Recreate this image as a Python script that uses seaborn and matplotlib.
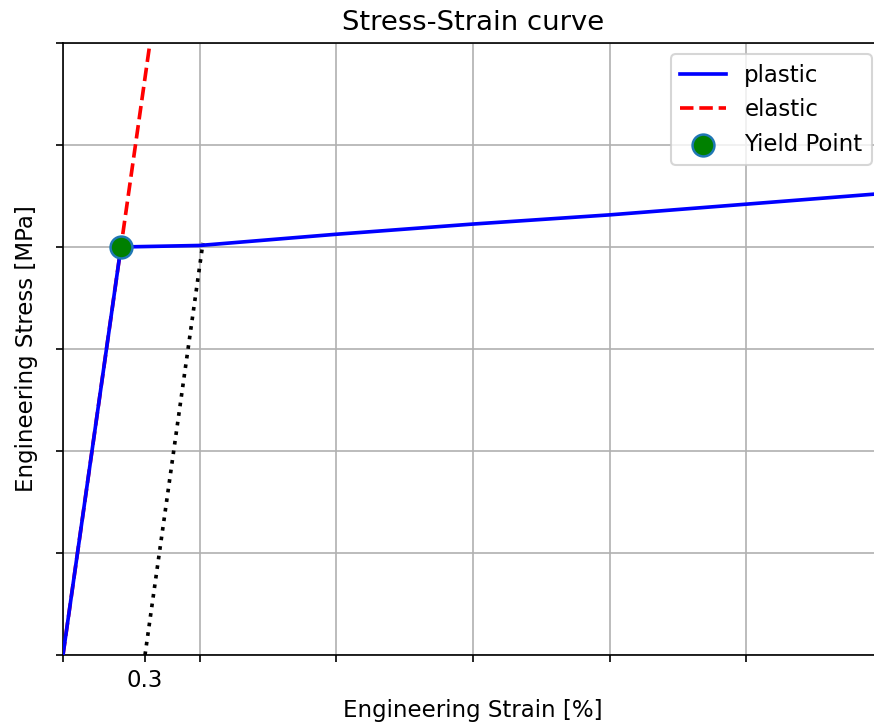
import matplotlib
matplotlib.use("Agg")
import matplotlib.pyplot as plt
import seaborn as sns
import pandas as pd

# Data
plastic_strain = [0.0, 0.212, 0.5, 1.0, 1.5, 2.0, 3.0]
plastic_stress = [0.0, 400.0, 401.5, 412.5, 422.5, 431.5, 452.5]

elastic_strain = [0.0, 0.212, 0.35]
elastic_stress = [0.0, 400.0, 660.0]

offset_strain = [0.3, 0.512]
offset_stress = [0.0, 404.0]

yield_strain = [0.212]
yield_stress = [400.0]

xticks_major = [0, 0.5, 1.0, 1.5, 2.0, 2.5, 3.0]
xtick_minor = [0.3]
xtick_minor_labels = ["0.3"]
yticks = [0, 100, 200, 300, 400, 500, 600]

plt.rcParams['font.family'] = ['DejaVu Sans']
plt.rcParams['font.size'] = 11
fig = plt.figure(figsize=(874 / 150, 723 / 150), dpi=150)
ax = fig.add_axes([63 / 874, 68 / 723, 820 / 874, 612 / 723])

df_pl = pd.DataFrame({"strain": plastic_strain, "stress": plastic_stress})
df_el = pd.DataFrame({"strain": elastic_strain, "stress": elastic_stress})
df_off = pd.DataFrame({"strain": offset_strain, "stress": offset_stress})
df_y = pd.DataFrame({"strain": yield_strain, "stress": yield_stress})

sns.lineplot(data=df_pl, x="strain", y="stress", sort=False, estimator=None,
             color="blue", lw=1.75, label="plastic", ax=ax, zorder=3)
sns.lineplot(data=df_el, x="strain", y="stress", sort=False, estimator=None,
             color="red", lw=1.75, linestyle="--", label="elastic", ax=ax, zorder=2)
sns.lineplot(data=df_off, x="strain", y="stress", sort=False, estimator=None,
             color="black", lw=1.75, linestyle=":", ax=ax, zorder=2, legend=False)
sns.scatterplot(data=df_y, x="strain", y="stress", s=110, color="green",
                edgecolor="#1f77b4", linewidth=1.2, label="Yield Point", ax=ax, zorder=4)

ax.set_xlim(0, 3.0)
ax.set_ylim(0, 600)
ax.set_xticks(xticks_major)
ax.set_xticklabels([""] * len(xticks_major))
ax.set_xticks(xtick_minor, minor=True)
ax.set_xticklabels(xtick_minor_labels, minor=True)
ax.tick_params(axis="x", which="minor", length=3.5, width=0.8, labelsize=11)
ax.tick_params(axis="both", which="major", length=3.5, width=0.8)
ax.set_yticks(yticks)
ax.set_yticklabels([""] * len(yticks))
ax.grid(True, which="major", color="#b0b0b0", lw=0.8)
ax.set_axisbelow(True)

ax.set_xlabel("Engineering Strain [%]", fontsize=11, labelpad=3)
ax.set_ylabel("Engineering Stress [MPa]", fontsize=11, labelpad=5)
ax.set_title("Stress-Strain curve", fontsize=13.2)
ax.legend(loc="upper right", fontsize=11)

fig.savefig("out.png", dpi=150)
